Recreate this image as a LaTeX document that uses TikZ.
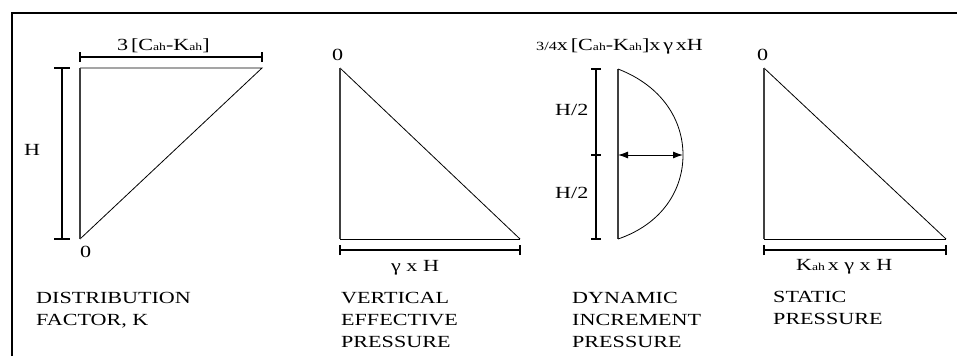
\documentclass[tikz,border=0pt]{standalone}
\usepackage{fontspec}
\setmainfont{Liberation Serif}[FakeStretch=1.3]
\usetikzlibrary{arrows.meta}
\newcommand\ahsub{{\fontsize{10.5}{10.5}\selectfont ah}}
\begin{document}
\begin{tikzpicture}[x=1pt,y=-1pt,
  lbl/.style={inner sep=0pt,anchor=base west,font=\fontsize{17}{21.5}\selectfont},
  hyp/.style={line width=0.8pt},
  wall/.style={line width=1.4pt,black!75},
  dimln/.style={line width=1.3pt},
  frm/.style={line width=2pt}]
\useasboundingbox (0,0) rectangle (957,356);
% frame
\coordinate (f1) at (12,356);
\coordinate (f2) at (12,12.5);
\coordinate (f3) at (957,12.5);
\draw[frm] (f1) -- (f2) -- (f3);
% ---------- panel 1
\coordinate (a1) at (80,68);
\coordinate (a2) at (262,68);
\coordinate (a3) at (80,239);
\draw[hyp] (a1) -- (a2) -- (a3);
\draw[wall] (a1) -- (a3);
\coordinate (d1t) at (62,68);
\coordinate (d1b) at (62,239);
\draw[dimln] (d1t) -- (d1b);
\draw[dimln] ([xshift=-8]d1t) -- ([xshift=8]d1t);
\draw[dimln] ([xshift=-8]d1b) -- ([xshift=8]d1b);
\coordinate (d2l) at (80,57);
\coordinate (d2r) at (262,57);
\draw[dimln] (d2l) -- (d2r);
\draw[dimln] ([yshift=-5]d2l) -- ([yshift=5]d2l);
\draw[dimln] ([yshift=-5]d2r) -- ([yshift=5]d2r);
\node[lbl] (t1) at (117,50) {3\,[C\ahsub-K\ahsub]};
\node[lbl] (h1) at (24,155) {H};
\node[lbl] (z1) at (80,257) {0};
\node[lbl] (c1a) at (36,303) {DISTRIBUTION};
\node[lbl] (c1b) at (36,325) {FACTOR, K};
% ---------- panel 2
\coordinate (b1) at (340,68);
\coordinate (b2) at (340,239);
\coordinate (b3) at (520,239);
\draw[hyp] (b1) -- (b3);
\draw[line width=1pt] (b2) -- (b3);
\draw[wall] (b1) -- (b2);
\coordinate (e1) at (340,250);
\coordinate (e2) at (520,250);
\draw[dimln] (e1) -- (e2);
\draw[dimln] ([yshift=-5]e1) -- ([yshift=5]e1);
\draw[dimln] ([yshift=-5]e2) -- ([yshift=5]e2);
\node[lbl] (z2) at (332,60) {0};
\node[lbl] (g2) at (391,271) {γ x H};
\node[lbl] (c2a) at (341,303) {VERTICAL};
\node[lbl] (c2b) at (341,325) {EFFECTIVE};
\node[lbl] (c2c) at (341,347) {PRESSURE};
% ---------- panel 3
\coordinate (p1) at (618,69);
\coordinate (p2) at (618,239);
\coordinate (pm) at (618,155);
\coordinate (pr) at (683,155);
\draw[wall] (p1) -- (p2);
\draw[hyp] (p1) .. controls (662,86) and (683,120) .. (pr) .. controls (683,190) and (662,224) .. (p2);
\draw[line width=1pt,{Latex[length=10pt,width=7pt]}-{Latex[length=10pt,width=7pt]}] (pm) -- (pr);
\coordinate (q1) at (596,69);
\coordinate (q2) at (596,239);
\coordinate (qm) at (596,155);
\draw[dimln] (q1) -- (q2);
\draw[dimln] ([xshift=-5]q1) -- ([xshift=5]q1);
\draw[dimln] ([xshift=-5]qm) -- ([xshift=5]qm);
\draw[dimln] ([xshift=-5]q2) -- ([xshift=5]q2);
\node[lbl] (t3) at (536,50) {{\fontsize{12.5}{12.5}\selectfont 3/4}x\,[C\ahsub-K\ahsub]x\,γ\,xH};
\node[lbl] (h3a) at (555,115) {H/2};
\node[lbl] (h3b) at (555,198) {H/2};
\node[lbl] (c3a) at (572,303) {DYNAMIC};
\node[lbl] (c3b) at (572,325) {INCREMENT};
\node[lbl] (c3c) at (572,347) {PRESSURE};
% ---------- panel 4
\coordinate (s1) at (764,68);
\coordinate (s2) at (764,239);
\coordinate (s3) at (946,239);
\draw[hyp] (s1) -- (s3);
\draw[line width=1pt] (s2) -- (s3);
\draw[wall] (s1) -- (s2);
\coordinate (k1) at (764,250);
\coordinate (k2) at (946,250);
\draw[dimln] (k1) -- (k2);
\draw[dimln] ([yshift=-5]k1) -- ([yshift=5]k1);
\draw[dimln] ([yshift=-5]k2) -- ([yshift=5]k2);
\node[lbl] (z4) at (757,60) {0};
\node[lbl] (g4) at (796,270) {K\ahsub\,x γ x H};
\node[lbl] (c4a) at (773,302) {STATIC};
\node[lbl] (c4b) at (773,324) {PRESSURE};
\end{tikzpicture}
\end{document}
